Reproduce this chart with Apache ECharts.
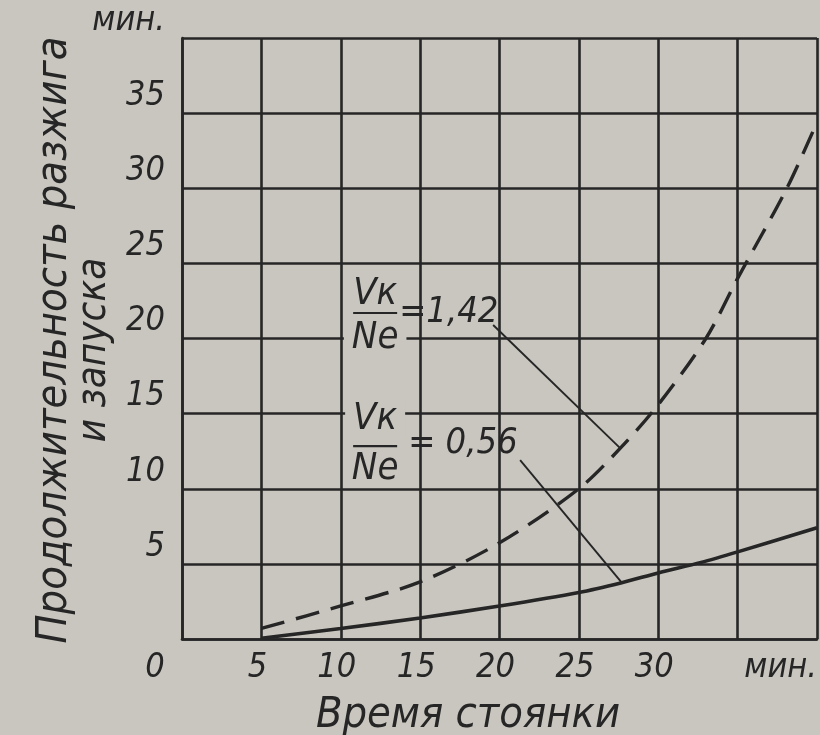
<!DOCTYPE html>
<html>
<head>
<meta charset="utf-8">
<script src="https://cdn.jsdelivr.net/npm/echarts@6/dist/echarts.min.js"></script>
<style>
html,body{margin:0;padding:0;background:#c9c6bf;}
#chart{width:820px;height:735px;}
</style>
</head>
<body>
<div id="chart"></div>
<script>
// ---- data ----
const yAxisUnitLabel = 'мин.';
const xAxisUnitLabel = 'мин.';
const xAxisTitle = 'Время стоянки';
const yAxisTitleLine1 = 'Продолжительность разжига';
const yAxisTitleLine2 = 'и запуска';
const ratioNumerator = 'Vк';
const ratioDenominator = 'Nе';
const ratioHighText = '=1,42';
const ratioLowText = '= 0,56';

// Vк/Nе = 0,56 (solid)
const stopTimeLow = [5, 10, 15, 20, 25, 27.7, 30, 32.7, 35, 40];
const durationLow = [0.05, 0.7, 1.4, 2.2, 3.1, 3.75, 4.4, 5.1, 5.8, 7.4];
// Vк/Nе = 1,42 (dashed)
const stopTimeHigh = [5, 10, 15, 20, 25, 27.7, 30, 33, 35, 38.1, 40];
const durationHigh = [0.7, 2.2, 3.8, 6.4, 10.0, 12.8, 15.6, 20.0, 24.0, 30.0, 34.4];
// leader lines: [label end, curve point]
const leaderHigh = [[19.6, 20.9], [27.6, 12.7]];
const leaderLow = [[21.3, 11.9], [27.7, 3.75]];

// ---- styles ----
const BG = '#c9c6bf';
const INK = '#262626';
const FONT = '"DejaVu Sans Condensed", "DejaVu Sans", sans-serif';

const zip = (a, b) => a.map((v, i) => [v, b[i]]);
const labelFont = {fontFamily: FONT, fontStyle: 'italic', fontSize: 34, color: INK};

const chart = echarts.init(document.getElementById('chart'));
chart.setOption({
  backgroundColor: BG,
  animation: false,
  grid: {left: 182, right: 2, top: 38, bottom: 96},
  xAxis: {
    type: 'value', min: 0, max: 40, interval: 5,
    axisLine: {show: true, onZero: false, lineStyle: {color: INK, width: 2.6}},
    axisTick: {show: false},
    splitLine: {show: true, lineStyle: {color: INK, width: 2.6}},
    axisLabel: Object.assign({}, labelFont, {
      margin: 12,
      alignMaxLabel: 'right',
      formatter: v => v === 0 ? '{z|0}' : (v === 40 ? xAxisUnitLabel : (v === 35 ? '' : '{n|' + v + '}')),
      rich: {
        z: Object.assign({}, labelFont, {padding: [0, 54, 0, 0]}),
        n: Object.assign({}, labelFont, {padding: [0, 8, 0, 0]})
      }
    })
  },
  yAxis: {
    type: 'value', min: 0, max: 40, interval: 5,
    axisLine: {show: true, onZero: false, lineStyle: {color: INK, width: 2.6}},
    axisTick: {show: false},
    splitLine: {show: true, lineStyle: {color: INK, width: 2.6}},
    axisLabel: Object.assign({}, labelFont, {
      margin: 17,
      verticalAlign: 'bottom', showMinLabel: false,
      formatter: v => v === 40 ? yAxisUnitLabel : String(v)
    })
  },
  series: [
    {type: 'line', data: zip(stopTimeLow, durationLow), smooth: 0.3, symbol: 'none',
     lineStyle: {color: INK, width: 3.6}, z: 5},
    {type: 'line', data: zip(stopTimeHigh, durationHigh), smooth: 0.3, symbol: 'none',
     lineStyle: {color: INK, width: 3.4, type: [24, 12]}, z: 5},
    {type: 'line', data: leaderHigh, symbol: 'none', lineStyle: {color: INK, width: 1.9}, z: 4},
    {type: 'line', data: leaderLow, symbol: 'none', lineStyle: {color: INK, width: 1.9}, z: 4}
  ]
});

function txt(x, y, text, size, align, vAlign, extra) {
  return {
    type: 'text', x: x, y: y, z: 100,
    style: Object.assign({text: text, fill: INK, font: 'italic ' + size + 'px ' + FONT, align: align, verticalAlign: vAlign}, extra || {})
  };
}
function fraction(ax, ay, cfg, valueText) {
  const cx = ax + cfg.dx, cy = ay + cfg.dy; // fraction bar centre
  const els = [];
  els.push(txt(cx, cy - cfg.up, ratioNumerator, 38, 'center', 'middle', cfg.numBg ? {backgroundColor: BG, padding: [0, 8]} : {}));
  els.push({type: 'line', z: 100, shape: {x1: cx - 22, y1: cy, x2: cx + 22, y2: cy}, style: {stroke: INK, lineWidth: 2.2}});
  els.push(txt(cx, cy + cfg.down, ratioDenominator, 38, 'center', 'middle', cfg.denBg ? {backgroundColor: BG, padding: [0, 8]} : {}));
  els.push(txt(cx + cfg.vx, cy + cfg.vy, valueText, 36, 'left', 'middle'));
  return els;
}

const pH = chart.convertToPixel({gridIndex: 0}, leaderHigh[0]);
const pL = chart.convertToPixel({gridIndex: 0}, leaderLow[0]);
chart.setOption({
  graphic: [
    txt(468, 716, xAxisTitle, 43, 'center', 'middle'),
    {type: 'text', x: 55, y: 340, rotation: Math.PI / 2, z: 100,
     style: {text: yAxisTitleLine1, fill: INK, font: 'italic 43px ' + FONT, align: 'center', verticalAlign: 'middle'}},
    {type: 'text', x: 95, y: 350, rotation: Math.PI / 2, z: 100,
     style: {text: yAxisTitleLine2, fill: INK, font: 'italic 40px ' + FONT, align: 'center', verticalAlign: 'middle'}}
  ]
    .concat(fraction(pH[0], pH[1], {dx: -118, dy: -12, up: 19, down: 25, vx: 24, vy: 0, denBg: true}, ratioHighText))
    .concat(fraction(pL[0], pL[1], {dx: -145, dy: -14, up: 27, down: 23, vx: 33, vy: -3, numBg: true}, ratioLowText))
});
</script>
</body>
</html>
